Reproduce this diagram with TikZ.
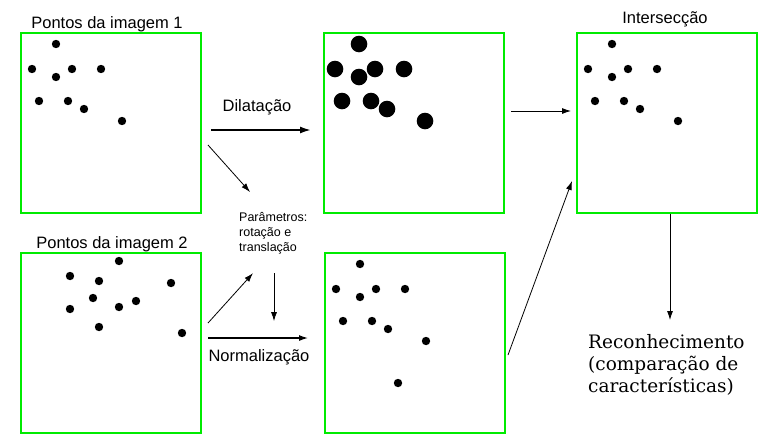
\documentclass[tikz,border=0pt]{standalone}
\usepackage{fontspec}
\setmainfont{Liberation Sans}
\newfontfamily\serifa{DejaVu Serif}
\usetikzlibrary{positioning,arrows.meta}
\definecolor{verde}{RGB}{0,235,0}
\tikzset{
  quadro/.style={draw=verde, line width=2.5pt, minimum width=180pt, minimum height=180pt, inner sep=0pt, outer sep=0pt},
  seta/.style={-{Latex[length=9pt,width=6pt]}, line width=0.8pt},
  rotulo/.style={font=\fontsize{16.5}{18}\selectfont, inner sep=0pt},
}
\newcommand{\pontosA}{35/11, 11/36, 51/36, 80/36, 35/44, 18/68, 47/68, 63/76, 101/88}
\newcommand{\pontosB}{98/8, 49/23, 78/28, 150/30, 72/45, 115/48, 49/56, 98/54, 78/74, 161/80}

\begin{document}
\begin{tikzpicture}[x=1pt,y=-1pt]
  \useasboundingbox (0,0) rectangle (776,445);

  % Quadros
  \node[quadro] (img1) at (111,123) {};
  \node[quadro, right=123pt of img1] (dil) {};
  \node[quadro, right=73pt of dil] (inter) {};
  \node[quadro, below=40pt of img1] (img2) {};
  \node[quadro, right=124pt of img2] (norm) {};

  % Pontos
  \begin{scope}[shift={(img1.north west)}]
    \foreach \x/\y in \pontosA \fill (\x,\y) circle (4.2);
  \end{scope}
  \begin{scope}[shift={(dil.north west)}]
    \foreach \x/\y in \pontosA \fill (\x,\y) circle (8.3);
  \end{scope}
  \begin{scope}[shift={(inter.north west)}]
    \foreach \x/\y in \pontosA \fill (\x,\y) circle (4.2);
  \end{scope}
  \begin{scope}[shift={(img2.north west)}]
    \foreach \x/\y in \pontosB \fill (\x,\y) circle (4.2);
  \end{scope}
  \begin{scope}[shift={(norm.north west)}]
    \foreach \x/\y in \pontosA \fill (\x,\y) circle (4.2);
    \fill (73,130) circle (4.2);
  \end{scope}

  % Titulos
  \node[rotulo, anchor=base] (t1) at ([shift={(-4,-5)}]img1.north) {Pontos da imagem 1};
  \node[rotulo, anchor=base] (t2) at ([shift={(1,-5)}]img2.north) {Pontos da imagem 2};
  \node[rotulo, anchor=base] (t3) at ([shift={(-2,-10)}]inter.north) {Intersecção};
  \node[rotulo, anchor=base] (tdil) at ([shift={(56,-12)}]img1.east) {Dilatação};
  \node[rotulo, anchor=base] (tnorm) at ([shift={(58,18)}]img2.east) {Normalização};
  \node[font=\fontsize{12.5}{15}\selectfont, inner sep=0pt, align=left, anchor=north west]
    (param) at (239,212) {Parâmetros:\\rotação e\\translação};
  \node[font=\serifa\fontsize{18.5}{22}\selectfont, inner sep=0pt, align=left, anchor=north west]
    (recon) at (588,334) {Reconhecimento\\(comparação de\\características)};

  % Setas
  \draw[seta, line width=1.8pt, -{Latex[length=11pt,width=7pt]}]
    ([shift={(10,7)}]img1.east) -- ([shift={(-13,7)}]dil.west);
  \draw[seta] ([shift={(7,22)}]img1.east) -- ([shift={(11,-20)}]param.north west);
  \draw[seta] ([shift={(7,-20)}]img2.east) -- ([shift={(14,19)}]param.south west);
  \draw[seta] ([shift={(35,19)}]param.south west) -- ([shift={(35,67)}]param.south west);
  \draw[seta, line width=1.2pt] ([shift={(7,-5)}]img2.east) -- ([shift={(-17,-5)}]norm.west);
  \draw[seta] ([shift={(7,-12)}]dil.east) -- ([shift={(-6,-12)}]inter.west);
  \draw[seta] ([shift={(3,12)}]norm.east) -- ([shift={(-5,58)}]inter.west);
  \draw[seta] ([shift={(3,1)}]inter.south) -- ([shift={(82,-14)}]recon.north west);
\end{tikzpicture}
\end{document}
